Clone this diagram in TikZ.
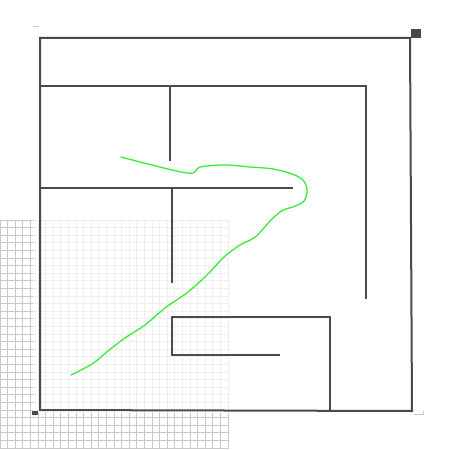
\documentclass[tikz,border=0pt]{standalone}
\begin{document}
\begin{tikzpicture}[x=1pt,y=-1pt,
  wall/.style={draw=wallgray,line width=2pt,line cap=rect},
  gridline/.style={draw=gridgray,line width=0.8pt},
  pathline/.style={draw=pathgreen,line width=1.3pt,line join=round,line cap=round},
  tick/.style={draw=tickgray,line width=1pt}]
\definecolor{wallgray}{HTML}{4A4A4A}
\definecolor{gridgray}{HTML}{C8C8C8}
\definecolor{pathgreen}{HTML}{38EC38}
\definecolor{tickgray}{HTML}{C8C8C8}
\useasboundingbox[fill=white] (0,0) rectangle (465,449);
% grid
\foreach \i in {0,...,30}{
  \draw[gridline] ({\i*7.6},220) -- ({\i*7.6},449);
  \draw[gridline] (0,{220+\i*7.6}) -- (228,{220+\i*7.6});
}
% translucent maze background
\fill[white,opacity=0.7] (33,27) rectangle (424,413);
% corner ticks
\draw[tick] (33,27) -- (39,27);
\draw[tick] (414,414) -- (423,414) -- (423,411);
% corner markers
\fill[wallgray] (411,29) rectangle (421,38);
\fill[wallgray] (32,411) rectangle (38,415);
% outer walls
\draw[wall] (40,410) -- (40,38) -- (410,38) -- (412,411) -- (40,410);
% inner walls
\draw[wall] (40,86) -- (366,86) -- (366,298);
\draw[wall] (170,86) -- (170,160);
\draw[wall] (40,188) -- (292,188);
\draw[wall] (172,188) -- (172,282);
\draw[wall] (279,355) -- (172,355) -- (172,317) -- (330,317) -- (330,410);
% robot path
\draw[pathline] plot[smooth,tension=0.55] coordinates {
 (121,157) (187,173) (200,167) (225,165) (250,167) (273,169)
 (292,174) (303,180) (307,190) (304,201) (293,207) (283,210)
 (272,219) (263,229) (254,238) (240,245) (224,257) (208,274)
 (188,292) (165,308) (145,325) (125,338) (108,351) (92,364) (71,375)};
\end{tikzpicture}
\end{document}
